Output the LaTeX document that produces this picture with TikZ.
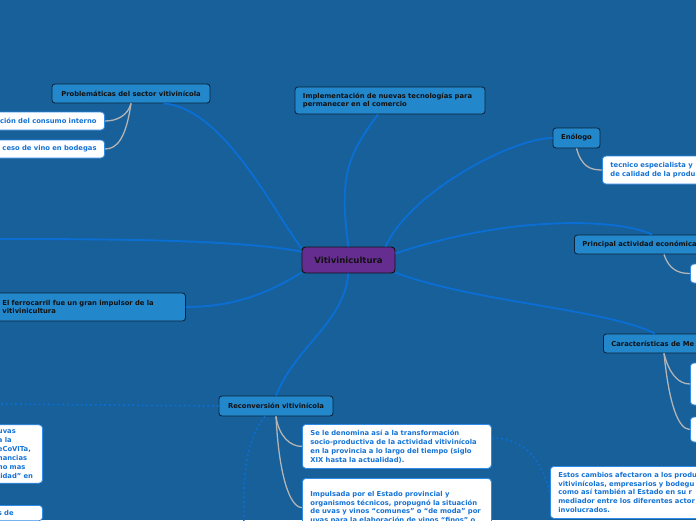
\documentclass[tikz,border=0pt]{standalone}
\usepackage{fontspec}
\setmainfont{DejaVu Sans}
\usepackage{xcolor}
\definecolor{VBack}{HTML}{17609A}
\definecolor{VTopic}{HTML}{2387CC}
\definecolor{VEdge}{HTML}{0B2236}
\definecolor{VPurple}{HTML}{662D91}
\definecolor{VLine}{HTML}{0B6ED3}
\definecolor{VLeafLine}{HTML}{2E8BE6}
\definecolor{VLeafText}{HTML}{1573D6}
\definecolor{VGrey}{HTML}{B4B4B4}
\definecolor{VInk}{HTML}{111111}
\newcommand\vfont{\fontsize{5.8}{7.6}\selectfont\bfseries}

\tikzset{
  topic/.style={draw=VEdge,fill=VTopic,rounded corners=2.5pt,line width=0.7pt,
    font=\vfont,text=VInk,inner xsep=0.24cm,minimum height=0.57cm},
  central/.style={draw=VInk,fill=VPurple,rounded corners=3pt,line width=0.8pt,
    font=\fontsize{7.3}{9}\selectfont\bfseries,text=VInk,minimum width=2.79cm,minimum height=0.78cm},
  leaf/.style={draw=VLeafLine,fill=white,rounded corners=3pt,line width=0.7pt,
    font=\vfont,text=VLeafText,inner xsep=0.24cm,inner ysep=0.15cm},
  mainline/.style={VLine,line width=1.6pt},
  greyline/.style={VGrey,line width=1.1pt},
  dotline/.style={VLine,line width=1.3pt,dash pattern=on 1.6pt off 2.4pt}
}

\begin{document}
\begin{tikzpicture}[x=0.03cm,y=-0.03cm]
\useasboundingbox (0,0) rectangle (696,520);
\clip (0,0) rectangle (696,520);
\fill[VBack] (0,0) rectangle (696,520);

\node[central] (viti) at (348.5,260) {Vitivinicultura};

\node[topic,minimum width=4.74cm] (prob) at (131,93.5) {Problemáticas del sector vitivinícola};
\node[leaf,anchor=east,align=right,text width=3.6cm,minimum height=0.54cm] (consumo) at (105,121) {ción del consumo interno};
\node[leaf,anchor=east,align=right,text width=3.6cm,minimum height=0.54cm] (exceso) at (105,149) {ceso de vino en bodegas};

\node[topic,align=left,text width=5.22cm,minimum height=0.81cm] (tecno) at (390,100.5) {Implementación de nuevas tecnologías para\\permanecer en el comercio};

\node[topic,minimum width=1.41cm,minimum height=0.6cm] (enologo) at (576.5,138) {Enólogo};
\node[leaf,anchor=west,align=left,text width=4cm,minimum height=0.84cm] (tecnico) at (602,170) {tecnico especialista y\\de calidad de la produ};

\node[topic,anchor=west,align=left,text width=4cm] (principal) at (574,244.5) {Principal actividad económica};
\node[leaf,anchor=west,minimum width=1cm,minimum height=0.57cm] (princhoja) at (690,273.5) {};

\node[topic,anchor=west,align=left,text width=5.25cm,minimum height=0.84cm] (ferro) at (-6,307) {El ferrocarril fue un gran impulsor de la\\vitivinicultura};

\node[topic,anchor=west,align=left,text width=4cm] (mendoza) at (603,343.5) {Características de Me};
\node[leaf,anchor=west,minimum width=1cm,minimum height=1.26cm] (mendhoja1) at (690,384) {};
\node[leaf,anchor=west,minimum width=1cm,minimum height=0.75cm] (mendhoja2) at (690,429.5) {};

\node[topic,minimum width=3.42cm,minimum height=0.6cm] (recon) at (276,406) {Reconversión vitivinícola};
\node[leaf,anchor=north west,align=left,text width=5.19cm,minimum height=1.32cm] (denomina) at (302,424) {Se le denomina así a la transformación\\socio-productiva de la actividad vitivinícola\\en la provincia a lo largo del tiempo (siglo\\XIX hasta la actualidad).};
\node[leaf,anchor=north west,align=left,text width=5.19cm,minimum height=1.75cm] (impulsada) at (302,478) {Impulsada por el Estado provincial y\\organismos técnicos, propugnó la situación\\de uvas y vinos “comunes” o “de moda” por\\uvas para la elaboración de vinos “finos” o};

\node[leaf,anchor=east,align=left,text width=1.1cm,minimum height=1.68cm] (izqhoja1) at (43,454) {uvas\\a la\\eCoVITa,\\nancias\\no mas\\lidad” en};
\node[leaf,anchor=north east,align=left,text width=1.1cm] (izqhoja2) at (43,505) {s de};

\node[leaf,anchor=north west,align=left,text width=5cm,minimum height=1.56cm] (cambios) at (550,466) {Estos cambios afectaron a los produ\\vitivinícolas, empresarios y bodegu\\como así también al Estado en su r\\mediador entre los diferentes actor\\involucrados.};

\coordinate (fueraizq) at (-5,239);
\coordinate (fueradash) at (-5,404);
\coordinate (fueraabajo) at (244,530);

% ramas principales
\draw[mainline] (prob.-17) .. controls +(60,5) and +(-30,-40) .. (viti.166);
\draw[mainline] (viti.north) .. controls +(-10,-70) and +(-30,40) .. ([xshift=-0.36cm]tecno.south);
\draw[mainline] (viti.20) .. controls +(25,-55) and +(-40,0) .. (enologo.west);
\draw[mainline] (viti.8) .. controls +(120,-40) and +(-30,-15) .. ([xshift=2.34cm]principal.north west);
\draw[mainline] (viti.-15) .. controls +(80,30) and +(-50,-25) .. ([xshift=1.56cm]mendoza.north west);
\draw[mainline] (viti.south) .. controls +(-5,50) and +(20,-50) .. (recon.north);
\draw[mainline] (viti.-165) .. controls +(-40,25) and +(40,0) .. (ferro.east);
\draw[mainline] (viti.170) .. controls +(-60,-12) and +(120,0) .. (fueraizq);

% subtemas
\draw[greyline] (prob.south) .. controls +(-3,12) and +(12,0) .. (consumo.east);
\draw[greyline] (prob.south) .. controls +(-5,35) and +(12,0) .. (exceso.east);
\draw[greyline] (enologo.south) .. controls +(5,18) and +(-12,0) .. (tecnico.west);
\draw[greyline] ([xshift=2.7cm]principal.south west) .. controls +(5,15) and +(-12,0) .. (princhoja.west);
\draw[greyline] ([xshift=1.83cm]mendoza.south west) .. controls +(5,20) and +(-12,0) .. (mendhoja1.west);
\draw[greyline] ([xshift=1.83cm]mendoza.south west) .. controls +(5,50) and +(-12,0) .. (mendhoja2.west);
\draw[greyline] (recon.south) .. controls +(3,20) and +(-12,0) .. (denomina.west);
\draw[greyline] (recon.south) .. controls +(3,60) and +(-12,0) .. (impulsada.west);

% enlaces punteados
\draw[dotline] (recon.west) -- (fueradash);
\draw[dotline] ([xshift=-0.33cm]recon.south) .. controls +(-25,30) and +(0,-30) .. (fueraabajo);
\draw[dotline] (denomina.5) .. controls +(35,0) and +(-8,-30) .. (cambios.west);
\end{tikzpicture}
\end{document}
